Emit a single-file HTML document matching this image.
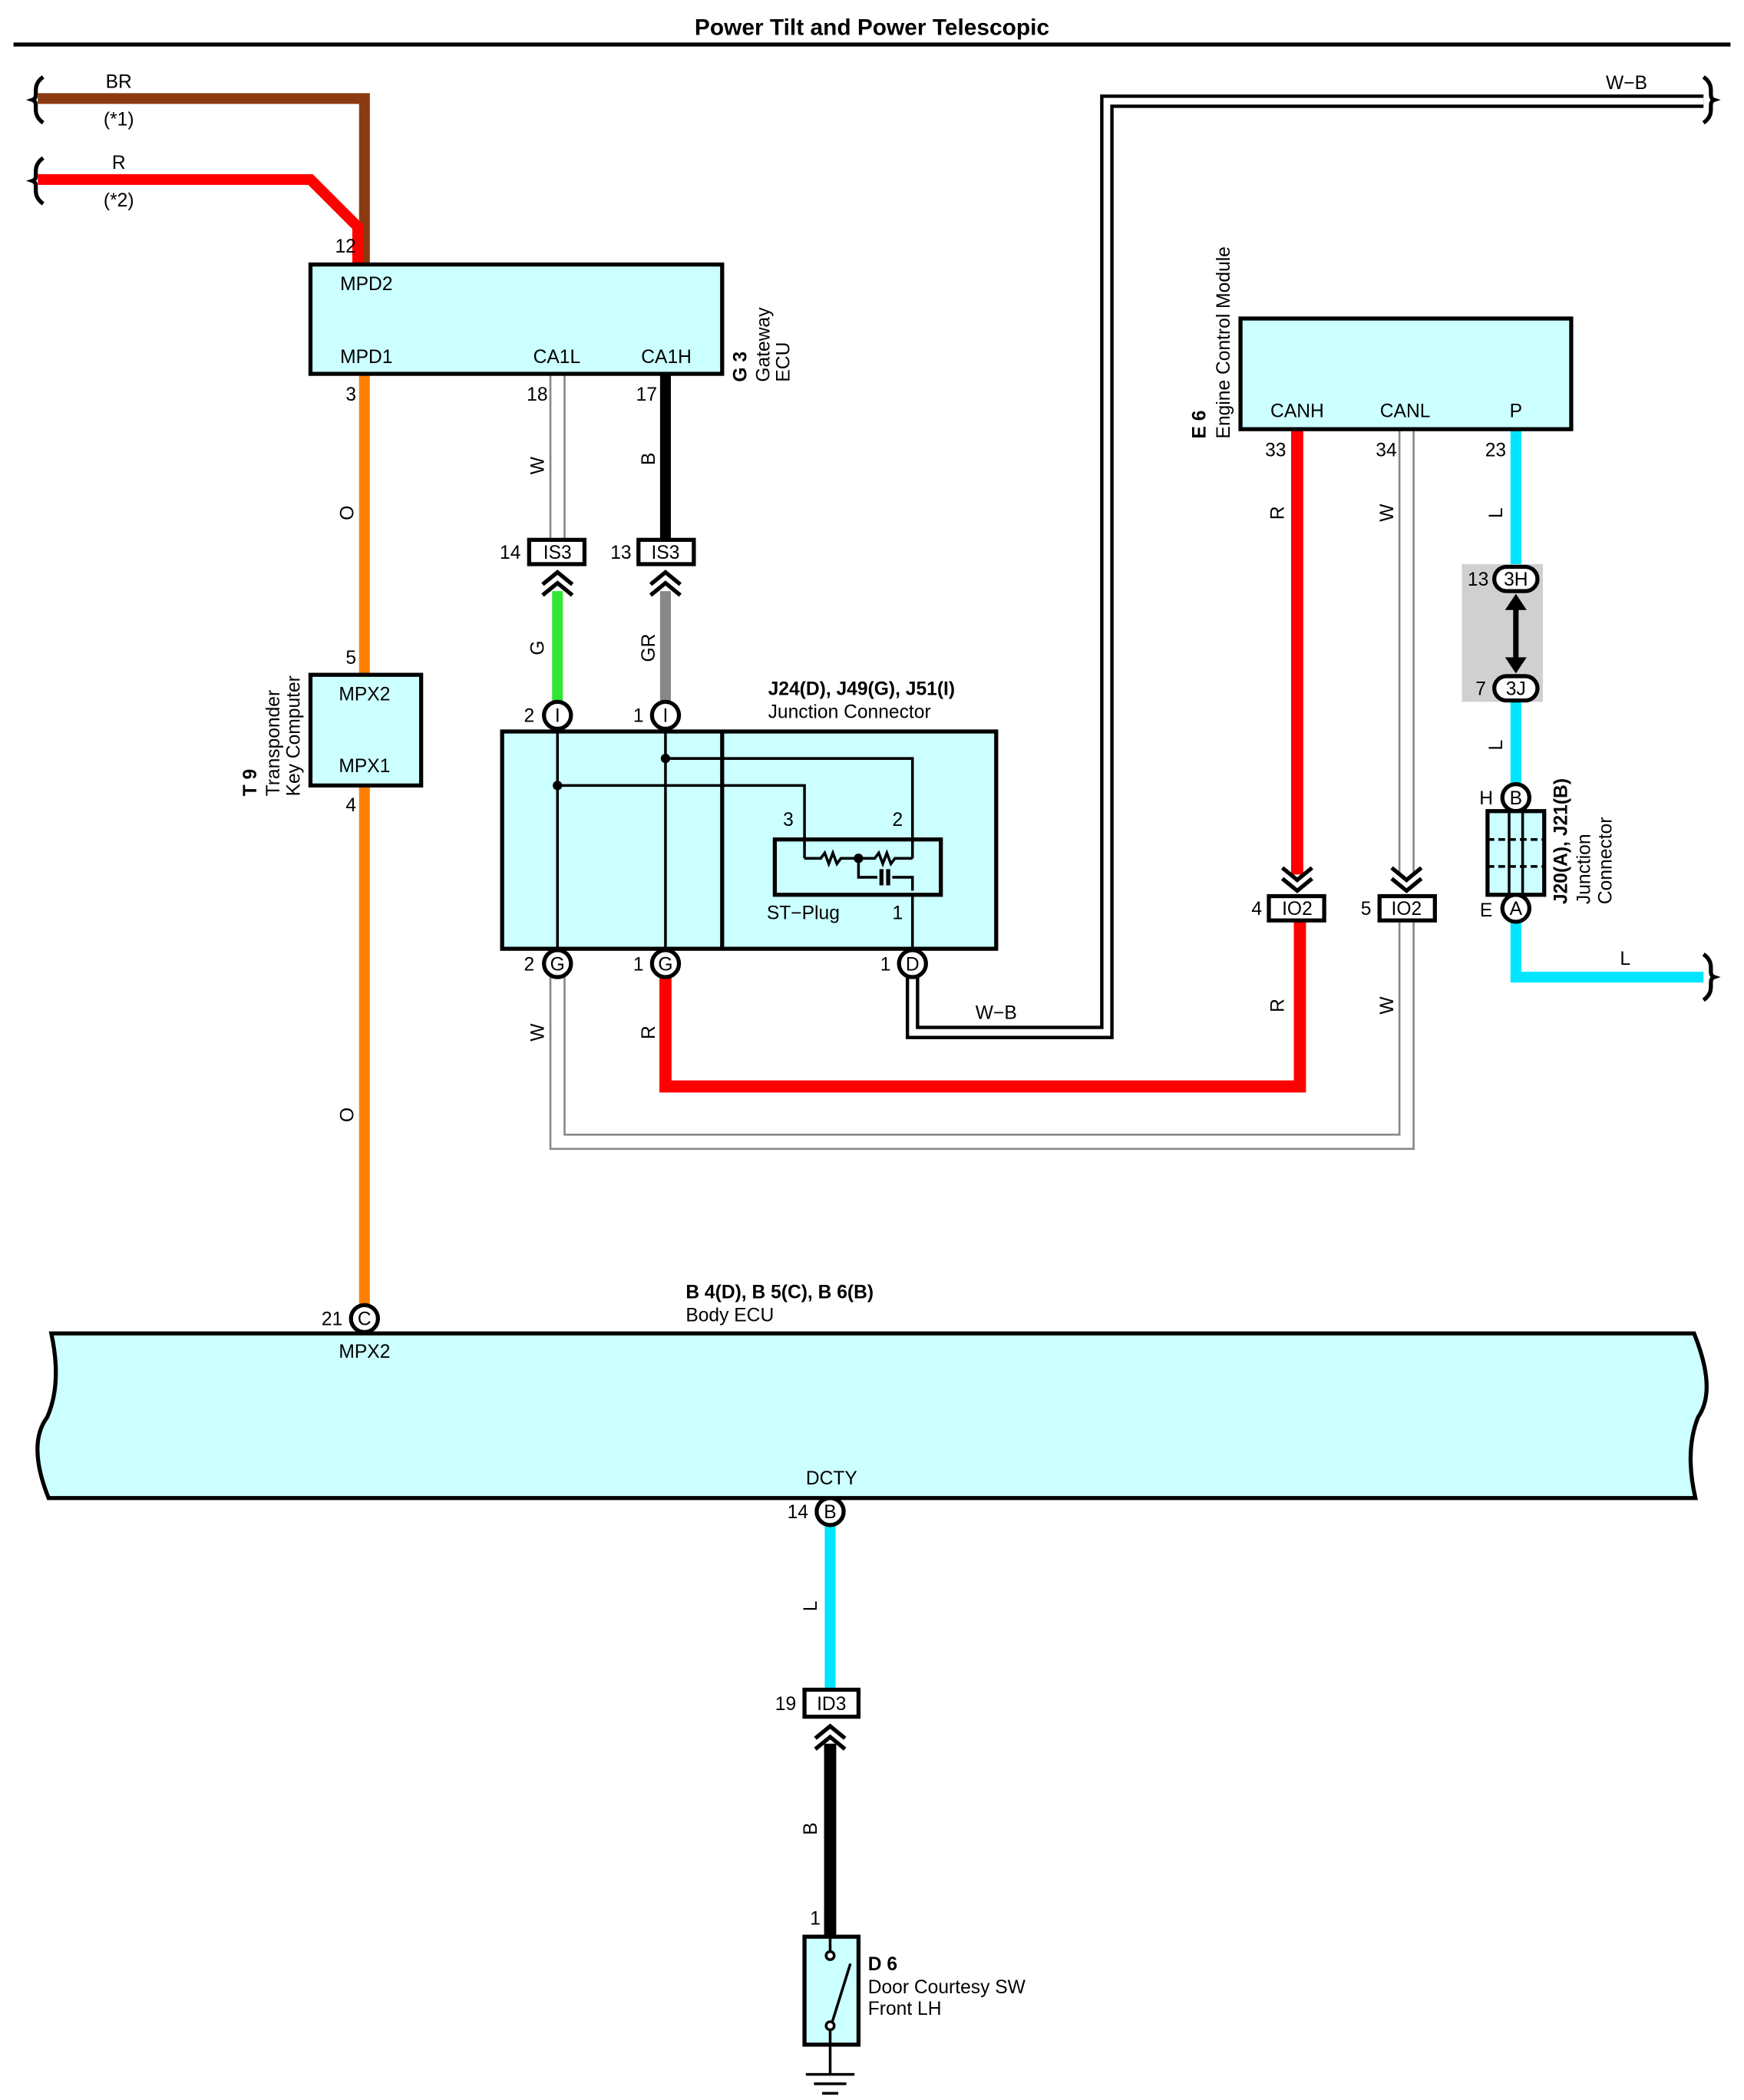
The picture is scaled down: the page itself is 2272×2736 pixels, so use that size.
<!DOCTYPE html>
<html><head><meta charset="utf-8"><style>
html,body{margin:0;padding:0;background:#fff}
svg{display:block}
text{font-family:"Liberation Sans",Arial,sans-serif;font-size:14px;fill:#000}
.b{font-weight:bold}
</style></head><body>
<svg width="2272" height="2736" viewBox="0 0 1292 1556" preserveAspectRatio="none" xmlns="http://www.w3.org/2000/svg">
<rect width="1292" height="1556" fill="#fff"/>
<text x="646" y="26" text-anchor="middle" class="b" style="font-size:17px">Power Tilt and Power Telescopic</text>
<line x1="10" y1="33" x2="1282" y2="33" stroke="#000" stroke-width="3"/>

<!-- break symbols -->
<g fill="none" stroke="#000" stroke-width="3">
<path d="M32,57 C22,64 30,72 24,74 C30,76 22,84 32,91"/>
<path d="M32,117 C22,124 30,132 24,134 C30,136 22,144 32,151"/>
<path d="M1262,57 C1272,64 1264,72 1270,74 C1264,76 1272,84 1262,91"/>
<path d="M1262,707 C1272,714 1264,722 1270,724 C1264,726 1272,734 1262,741"/>
</g>

<!-- BR / R top wires -->
<polyline points="28,73 270,73 270,197" fill="none" stroke="#8b3a0f" stroke-width="8"/>
<polyline points="28,133 230,133 265,168 265,197" fill="none" stroke="#ff0000" stroke-width="8"/>
<text x="88" y="65" text-anchor="middle">BR</text><text x="88" y="93" text-anchor="middle">(*1)</text>
<text x="88" y="125" text-anchor="middle">R</text><text x="88" y="153" text-anchor="middle">(*2)</text>
<text x="256" y="187" text-anchor="middle">12</text>

<!-- W-B wire -->
<polyline points="676,714 676,765 820,765 820,75 1262,75" fill="none" stroke="#000" stroke-width="10"/>
<polyline points="676,714 676,765 820,765 820,75 1262,75" fill="none" stroke="#fff" stroke-width="5"/>
<text x="738" y="755" text-anchor="middle">W−B</text>
<text x="1205" y="66" text-anchor="middle">W−B</text>

<!-- W wires (gray double) -->
<g fill="none">
<polyline points="413,714 413,846 1042,846 1042,682" stroke="#888" stroke-width="12"/>
<polyline points="413,714 413,846 1042,846 1042,682" stroke="#fff" stroke-width="9"/>
<line x1="413" y1="277" x2="413" y2="400" stroke="#888" stroke-width="12"/>
<line x1="413" y1="277" x2="413" y2="400" stroke="#fff" stroke-width="9"/>
<line x1="1042" y1="318" x2="1042" y2="648" stroke="#888" stroke-width="12"/>
<line x1="1042" y1="318" x2="1042" y2="648" stroke="#fff" stroke-width="9"/>
</g>

<!-- Orange wire -->
<line x1="270" y1="277" x2="270" y2="968" stroke="#ff8000" stroke-width="8"/>
<!-- B wire -->
<line x1="493" y1="277" x2="493" y2="400" stroke="#000" stroke-width="8"/>
<!-- G / GR -->
<line x1="413" y1="438" x2="413" y2="520" stroke="#33e633" stroke-width="8"/>
<line x1="493" y1="438" x2="493" y2="520" stroke="#888" stroke-width="8"/>
<!-- R loop -->
<polyline points="493,724 493,805 963,805 963,682" fill="none" stroke="#ff0000" stroke-width="9"/>
<line x1="961" y1="318" x2="961" y2="648" stroke="#ff0000" stroke-width="9"/>
<!-- L -->
<line x1="1123" y1="318" x2="1123" y2="420" stroke="#00e5ff" stroke-width="8"/>
<line x1="1123" y1="520" x2="1123" y2="582" stroke="#00e5ff" stroke-width="8"/>
<polyline points="1123,683 1123,724 1262,724" fill="none" stroke="#00e5ff" stroke-width="8"/>
<line x1="615" y1="1130" x2="615" y2="1252" stroke="#00e5ff" stroke-width="8"/>
<line x1="615" y1="1292" x2="615" y2="1435" stroke="#000" stroke-width="9"/>

<!-- Gateway ECU -->
<rect x="230" y="196" width="305" height="81" fill="#ccffff" stroke="#000" stroke-width="3"/>
<text x="252" y="215">MPD2</text><text x="252" y="269">MPD1</text>
<text x="395" y="269">CA1L</text><text x="475" y="269">CA1H</text>
<text x="260" y="297" text-anchor="middle">3</text>
<text x="398" y="297" text-anchor="middle">18</text>
<text x="479" y="297" text-anchor="middle">17</text>
<g transform="translate(553,283) rotate(-90)"><text class="b">G 3</text></g>
<g transform="translate(570,283) rotate(-90)"><text>Gateway</text></g>
<g transform="translate(585,283) rotate(-90)"><text>ECU</text></g>

<!-- wire labels rotated -->
<g transform="translate(403,345) rotate(-90)"><text text-anchor="middle">W</text></g>
<g transform="translate(485,340) rotate(-90)"><text text-anchor="middle">B</text></g>
<g transform="translate(262,380) rotate(-90)"><text text-anchor="middle">O</text></g>
<g transform="translate(262,826) rotate(-90)"><text text-anchor="middle">O</text></g>
<g transform="translate(403,480) rotate(-90)"><text text-anchor="middle">G</text></g>
<g transform="translate(485,480) rotate(-90)"><text text-anchor="middle">GR</text></g>
<g transform="translate(403,765) rotate(-90)"><text text-anchor="middle">W</text></g>
<g transform="translate(485,765) rotate(-90)"><text text-anchor="middle">R</text></g>
<g transform="translate(951,380) rotate(-90)"><text text-anchor="middle">R</text></g>
<g transform="translate(1032,380) rotate(-90)"><text text-anchor="middle">W</text></g>
<g transform="translate(951,745) rotate(-90)"><text text-anchor="middle">R</text></g>
<g transform="translate(1032,745) rotate(-90)"><text text-anchor="middle">W</text></g>
<g transform="translate(1113,380) rotate(-90)"><text text-anchor="middle">L</text></g>
<g transform="translate(1113,552) rotate(-90)"><text text-anchor="middle">L</text></g>
<g transform="translate(605,1190) rotate(-90)"><text text-anchor="middle">L</text></g>
<g transform="translate(605,1355) rotate(-90)"><text text-anchor="middle">B</text></g>
<text x="1204" y="715" text-anchor="middle">L</text>

<!-- T9 -->
<rect x="230" y="500" width="82" height="82" fill="#ccffff" stroke="#000" stroke-width="3"/>
<text x="251" y="519">MPX2</text><text x="251" y="572">MPX1</text>
<text x="260" y="492" text-anchor="middle">5</text>
<text x="260" y="601" text-anchor="middle">4</text>
<g transform="translate(190,590) rotate(-90)"><text class="b">T 9</text></g>
<g transform="translate(207,590) rotate(-90)"><text>Transponder</text></g>
<g transform="translate(222,590) rotate(-90)"><text>Key Computer</text></g>

<!-- IS3 connectors -->
<g stroke="#000" stroke-width="3" fill="#fff">
<rect x="392" y="400" width="41" height="18"/><rect x="473" y="400" width="41" height="18"/>
</g>
<text x="413" y="414" text-anchor="middle">IS3</text><text x="493" y="414" text-anchor="middle">IS3</text>
<text x="378" y="414" text-anchor="middle">14</text><text x="460" y="414" text-anchor="middle">13</text>
<g fill="none" stroke="#000" stroke-width="3">
<polyline points="402,433 413,424 424,433"/><polyline points="402,441 413,432 424,441"/>
<polyline points="482,433 493,424 504,433"/><polyline points="482,441 493,432 504,441"/>
<!-- down chevrons IO2 -->
<polyline points="950,643 961,652 972,643"/><polyline points="950,651 961,660 972,651"/>
<polyline points="1031,643 1042,652 1053,643"/><polyline points="1031,651 1042,660 1053,651"/>
<!-- ID3 up -->
<polyline points="604,1288 615,1279 626,1288"/><polyline points="604,1296 615,1287 626,1296"/>
</g>

<!-- Junction connector -->
<text x="569" y="515" class="b">J24(D), J49(G), J51(I)</text>
<text x="569" y="532">Junction Connector</text>
<rect x="372" y="542" width="366" height="161" fill="#ccffff" stroke="#000" stroke-width="3"/>
<line x1="535" y1="542" x2="535" y2="703" stroke="#000" stroke-width="3"/>
<g stroke="#000" stroke-width="2" fill="none">
<line x1="413" y1="540" x2="413" y2="704"/>
<line x1="493" y1="540" x2="493" y2="704"/>
<line x1="413" y1="582" x2="535" y2="582"/>
<polyline points="535,582 596,582 596,636"/>
<polyline points="493,562 676,562 676,636"/>
<rect x="574" y="622" width="123" height="41" stroke-width="3"/>
<polyline points="596,636 608,636 611,632 614,640 617,632 620,640 623,636 636,636 648,636 651,632 654,640 657,632 660,640 663,636 676,636"/>
<polyline points="636,636 636,650 650,650"/>
<line x1="653" y1="644" x2="653" y2="656" stroke-width="3"/>
<line x1="658" y1="644" x2="658" y2="656" stroke-width="3"/>
<polyline points="661,650 676,650 676,660"/>
<polyline points="676,663 676,704"/>
</g>
<circle cx="413" cy="582" r="3.5"/><circle cx="493" cy="562" r="3.5"/><circle cx="636" cy="636" r="3.5"/>
<text x="584" y="612" text-anchor="middle">3</text><text x="665" y="612" text-anchor="middle">2</text>
<text x="665" y="681" text-anchor="middle">1</text><text x="568" y="681">ST−Plug</text>

<!-- circles -->
<g stroke="#000" stroke-width="3" fill="#fff">
<circle cx="413" cy="530" r="10"/><circle cx="493" cy="530" r="10"/>
<circle cx="413" cy="714" r="10"/><circle cx="493" cy="714" r="10"/><circle cx="676" cy="714" r="10"/>
<circle cx="270" cy="977" r="10"/><circle cx="615" cy="1120" r="10"/>
<circle cx="1123" cy="591" r="10"/><circle cx="1123" cy="673" r="10"/>
</g>
<g text-anchor="middle">
<text x="413" y="535">I</text><text x="493" y="535">I</text>
<text x="413" y="719">G</text><text x="493" y="719">G</text><text x="676" y="719">D</text>
<text x="270" y="982">C</text><text x="615" y="1125">B</text>
<text x="1123" y="596">B</text><text x="1123" y="678">A</text>
<text x="392" y="535">2</text><text x="473" y="535">1</text>
<text x="392" y="719">2</text><text x="473" y="719">1</text><text x="656" y="719">1</text>
<text x="246" y="982">21</text><text x="591" y="1125">14</text>
<text x="1101" y="596">H</text><text x="1101" y="679">E</text>
</g>

<!-- ECM -->
<rect x="919" y="236" width="245" height="82" fill="#ccffff" stroke="#000" stroke-width="3"/>
<text x="961" y="309" text-anchor="middle">CANH</text><text x="1041" y="309" text-anchor="middle">CANL</text><text x="1123" y="309" text-anchor="middle">P</text>
<text x="945" y="338" text-anchor="middle">33</text><text x="1027" y="338" text-anchor="middle">34</text><text x="1108" y="338" text-anchor="middle">23</text>
<g transform="translate(893,325) rotate(-90)"><text class="b">E 6</text></g>
<g transform="translate(911,325) rotate(-90)"><text>Engine Control Module</text></g>

<!-- IO2 -->
<g stroke="#000" stroke-width="3" fill="#fff">
<rect x="940" y="664" width="41" height="18"/><rect x="1022" y="664" width="41" height="18"/>
<rect x="596" y="1252" width="40" height="20"/>
</g>
<text x="961" y="678" text-anchor="middle">IO2</text><text x="1042" y="678" text-anchor="middle">IO2</text>
<text x="931" y="678" text-anchor="middle">4</text><text x="1012" y="678" text-anchor="middle">5</text>
<text x="616" y="1267" text-anchor="middle">ID3</text><text x="582" y="1267" text-anchor="middle">19</text>

<!-- 3H/3J -->
<rect x="1083" y="418" width="60" height="102" fill="#d0d0d0"/>
<g stroke="#000" stroke-width="3" fill="#fff">
<rect x="1107" y="420" width="32" height="18" rx="9"/><rect x="1107" y="501" width="32" height="18" rx="9"/>
</g>
<text x="1123" y="434" text-anchor="middle">3H</text><text x="1123" y="515" text-anchor="middle">3J</text>
<text x="1095" y="434" text-anchor="middle">13</text><text x="1097" y="515" text-anchor="middle">7</text>
<line x1="1123" y1="448" x2="1123" y2="491" stroke="#000" stroke-width="4"/>
<polygon points="1115,452 1123,440 1131,452" /><polygon points="1115,487 1123,499 1131,487"/>

<!-- J20/J21 -->
<rect x="1102" y="601" width="42" height="62" fill="#ccffff" stroke="#000" stroke-width="3"/>
<g stroke="#000" stroke-width="2" stroke-dasharray="5,3">
<line x1="1102" y1="622" x2="1144" y2="622"/><line x1="1102" y1="642" x2="1144" y2="642"/>
</g>
<line x1="1118" y1="601" x2="1118" y2="663" stroke="#000" stroke-width="2"/>
<line x1="1128" y1="601" x2="1128" y2="663" stroke="#000" stroke-width="2"/>
<g transform="translate(1161,670) rotate(-90)"><text class="b">J20(A), J21(B)</text></g>
<g transform="translate(1178,670) rotate(-90)"><text>Junction</text></g>
<g transform="translate(1194,670) rotate(-90)"><text>Connector</text></g>

<!-- Body ECU -->
<text x="508" y="962" class="b">B 4(D), B 5(C), B 6(B)</text>
<text x="508" y="979">Body ECU</text>
<path d="M38,988 L1255,988 Q1272,1030 1258,1050 Q1248,1075 1256,1110 L36,1110 Q20,1070 35,1050 Q46,1025 38,988 Z" fill="#ccffff" stroke="#000" stroke-width="3"/>
<text x="251" y="1006">MPX2</text>
<text x="597" y="1100">DCTY</text>

<!-- D6 -->
<text x="604" y="1426" text-anchor="middle">1</text>
<rect x="596" y="1435" width="40" height="80" fill="#ccffff" stroke="#000" stroke-width="3"/>
<g stroke="#000" stroke-width="2" fill="#fff">
<line x1="615" y1="1435" x2="615" y2="1446"/>
<line x1="615" y1="1504" x2="615" y2="1515"/>
<line x1="616" y1="1500" x2="630" y2="1455"/>
<circle cx="615" cy="1449" r="3"/><circle cx="615" cy="1501" r="3"/>
</g>
<g stroke="#000" stroke-width="2">
<line x1="615" y1="1515" x2="615" y2="1537"/>
<line x1="597" y1="1537" x2="633" y2="1537"/>
<line x1="603" y1="1544" x2="627" y2="1544"/>
<line x1="609" y1="1551" x2="621" y2="1551"/>
</g>
<text x="643" y="1460" class="b">D 6</text>
<text x="643" y="1477">Door Courtesy SW</text>
<text x="643" y="1493">Front LH</text>
</svg>
</body></html>
